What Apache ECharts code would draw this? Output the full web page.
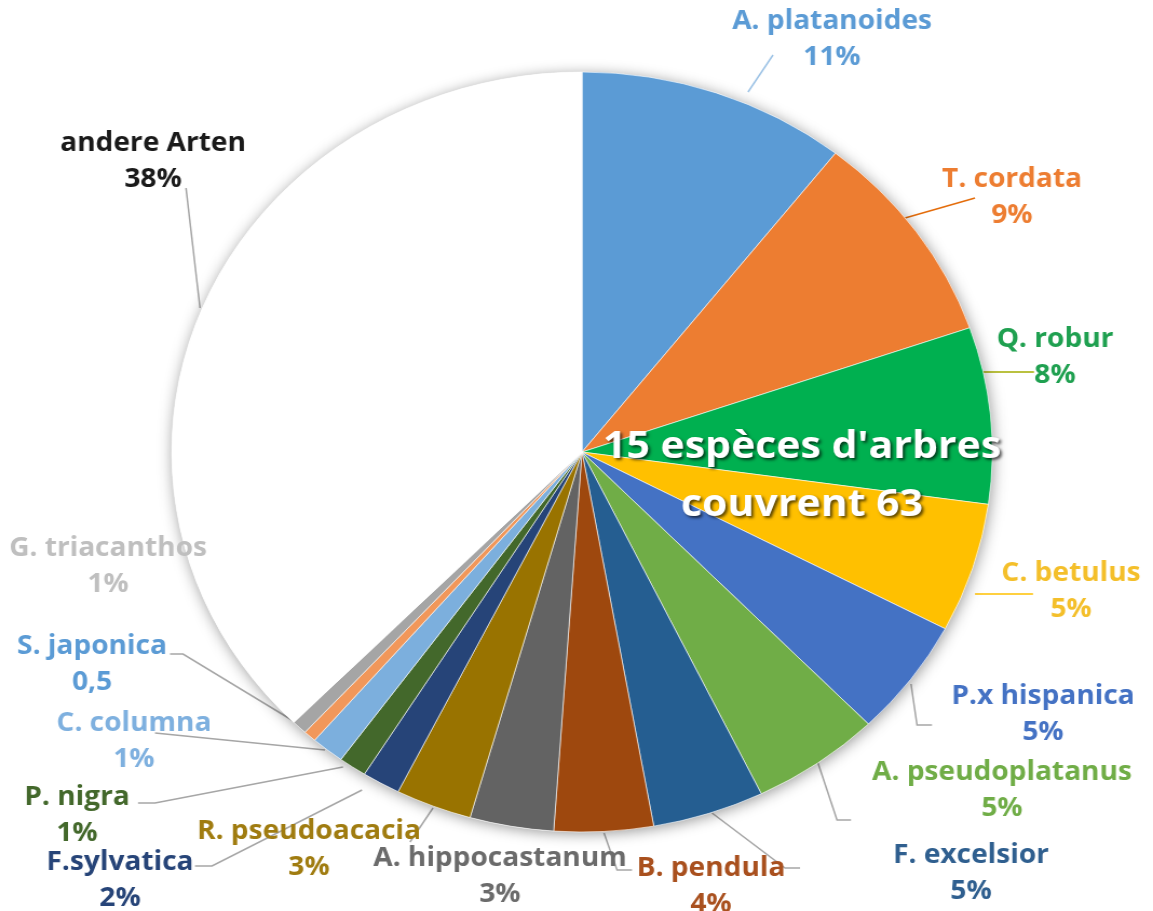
<!DOCTYPE html>
<html>
<head>
<meta charset="utf-8">
<title>Baumarten</title>
<script src="https://cdn.jsdelivr.net/npm/echarts@6/dist/echarts.min.js"></script>
<style>
    html, body { margin: 0; padding: 0; background: #fff; overflow: hidden; }
    /* the original picture is a little wider than tall, so the chart is drawn narrower and stretched */
    #chart { width: 1068px; height: 911px; transform: scaleX(1.0796); transform-origin: 0 0; }
</style>
</head>
<body>
<div id="chart"></div>
<script>
const SX = 1153 / 1068;

// slices, clockwise from 12 o'clock
const species = ['A. platanoides', 'T. cordata', 'Q. robur', 'C. betulus', 'P.x hispanica',
    'A. pseudoplatanus', 'F. excelsior', 'B. pendula', 'A. hippocastanum', 'R. pseudoacacia',
    'F.sylvatica', 'P. nigra', 'C. columna', 'S. japonica', 'G. triacanthos', 'andere Arten'];
const shares = [10.6, 9.1, 7.5, 5.5, 5.0, 5.1, 4.4, 3.9, 3.3, 3.0, 1.5, 1.1, 1.3, 0.5, 0.6, 37.6];
const shareLabels = ['11%', '9%', '8%', '5%', '5%', '5%', '5%', '4%', '3%', '3%',
    '2%', '1%', '1%', '0,5', '1%', '38%'];

const sliceColors = ['#5B9BD5', '#ED7D31', '#00B050', '#FFC000', '#4472C4', '#70AD47', '#255E91',
    '#9E480E', '#636363', '#997300', '#264478', '#43682B', '#7CAFDD', '#F1975A', '#A5A5A5', '#FFFFFF'];
const labelColors = ['#5B9BD5', '#ED7D31', '#1FA050', '#F4BF2A', '#4472C4', '#70AD47', '#2F5F8F',
    '#A9501E', '#6B6B6B', '#A07C10', '#264478', '#43682B', '#7EB0DF', '#5B9BD5', '#BFBFBF', '#1A1A1A'];
const lineColors = ['#9DC3E6', '#E46C0A', '#A3AD00', '#FFC000', '#A6A6A6', '#A6A6A6', '#A6A6A6',
    '#A6A6A6', '#A6A6A6', '#A6A6A6', '#A6A6A6', '#A6A6A6', '#A6A6A6', '#A6A6A6', '#A6A6A6', '#A6A6A6'];

// label placement (picture pixels): centre of the two-line label, and leader line points
const labelCenters = [[832, 40], [1012, 198], [1055, 358], [1071, 592], [1043, 715],
    [1002, 791], [971, 874], [711, 887], [500, 877], [309, 850],
    [120, 881], [77, 816], [134, 742], [92, 665], [108, 567], [153, 162]];
const leaderLines = [
    [[748, 92], [773, 55]],
    [[905, 218], [975, 198]],
    [[975, 372], [1034, 372]],
    [[975, 594], [1033, 594]],
    [[911, 684], [917, 725], [932, 725]],
    [[818, 763], [837, 820], [851, 820]],
    [[712, 813], [785, 868], [800, 868]],
    [[604, 833], [617, 870], [632, 870]],
    null,
    [[433, 808], [410, 842]],
    [[362, 790], [212, 866], [195, 866]],
    [[343, 767], [155, 803], [138, 803]],
    [[325, 750], [155, 733]],
    [[300, 725], [183, 654], [170, 654]],
    null,
    [[200, 308], [186, 188]]
];

const chart = echarts.init(document.getElementById('chart'));

const option = {
    animation: false,
    backgroundColor: '#fff',
    graphic: [{
        type: 'text',
        x: 802 / SX,
        y: 476,
        z: 100,
        style: {
            text: "15 espèces d'arbres\ncouvrent 63",
            fill: '#fff',
            font: 'bold 38px "Open Sans"',
            align: 'center',
            verticalAlign: 'middle',
            lineHeight: 58,
            textShadowColor: 'rgba(0,0,0,0.65)',
            textShadowBlur: 3,
            textShadowOffsetX: 2,
            textShadowOffsetY: 2
        }
    }],
    series: [
        {
            // soft shadow under the whole pie
            type: 'pie',
            silent: true,
            center: [582 / SX, 452],
            radius: 380,
            label: { show: false },
            labelLine: { show: false },
            itemStyle: {
                color: '#fff',
                shadowBlur: 14,
                shadowOffsetX: 1,
                shadowOffsetY: 2,
                shadowColor: 'rgba(0,0,0,0.4)'
            },
            data: [{ value: 1, name: '' }]
        },
        {
            type: 'pie',
            center: [582 / SX, 452],
            radius: 380,
            startAngle: 90,
            clockwise: true,
            avoidLabelOverlap: false,
            itemStyle: { borderColor: '#fff', borderWidth: 0.6 },
            label: {
                show: true,
                position: 'outside',
                fontFamily: 'Open Sans',
                fontWeight: 'bold',
                fontSize: 26,
                lineHeight: 36,
                overflow: 'none',
                formatter: function (p) {
                    return p.name + '\n' + shareLabels[p.dataIndex];
                }
            },
            labelLine: { show: true, lineStyle: { width: 1.5 } },
            labelLayout: function (params) {
                const i = params.dataIndex;
                const c = labelCenters[i];
                const out = { x: c[0] / SX, y: c[1], align: 'center', verticalAlign: 'middle' };
                if (leaderLines[i]) {
                    out.labelLinePoints = leaderLines[i].map(p => [p[0] / SX, p[1]]);
                }
                return out;
            },
            data: species.map((name, i) => ({
                name: name,
                value: shares[i],
                itemStyle: { color: sliceColors[i] },
                label: { color: labelColors[i] },
                labelLine: {
                    show: leaderLines[i] != null,
                    lineStyle: { color: lineColors[i], width: 1.5 }
                }
            }))
        }
    ]
};

chart.setOption(option);
</script>
</body>
</html>
